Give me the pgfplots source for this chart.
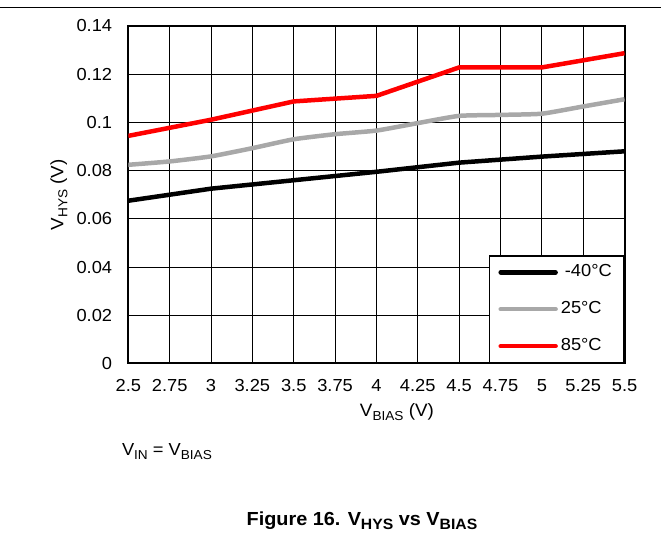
\documentclass[border=0pt]{standalone}
\usepackage{fontspec}
\setmainfont{Liberation Sans}[FakeStretch=1.05]
\usepackage{pgfplots}
\pgfplotsset{compat=1.18}
\definecolor{lgray}{RGB}{168,168,168}
\definecolor{lred}{RGB}{255,0,0}
\newcommand{\sub}[2][13bp]{\raisebox{-0.22em}{\fontsize{#1}{#1}\selectfont #2}}
\begin{document}
\begin{tikzpicture}
\path (0,0) rectangle (661bp,533bp);
\draw[line width=1bp] (0,525.5bp) -- (661bp,525.5bp);
\begin{axis}[
  at={(128bp,169bp)}, anchor=south west,
  scale only axis, width=497bp, height=338bp,
  xmin=2.5, xmax=5.5, ymin=0, ymax=0.14,
  xtick={2.5,2.75,3,3.25,3.5,3.75,4,4.25,4.5,4.75,5,5.25,5.5},
  xticklabels={2.5,2.75,3,3.25,3.5,3.75,4,4.25,4.5,4.75,5,5.25,5.5},
  ytick={0,0.02,0.04,0.06,0.08,0.1,0.12,0.14},
  yticklabels={0,0.02,0.04,0.06,0.08,0.1,0.12,0.14},
  /pgf/number format/assume math mode=true,
  major tick length=0pt,
  grid=major,
  major grid style={black, line width=0.8bp},
  axis line style={black, line width=2bp},
  tick label style={font=\fontsize{17.5}{20}\selectfont, inner sep=0pt},
  xticklabel style={anchor=base, yshift=-28bp},
  yticklabel style={anchor=east, xshift=-16bp},
  legend cell align=left,
  legend style={at={(rel axis cs:1,0)}, anchor=south east, draw=black, line width=1.6bp, fill=white,
    inner xsep=9bp, inner ysep=6bp, row sep=16bp,
    font=\fontsize{17.5}{20}\selectfont,
    nodes={inner sep=3bp, text height=12bp, text depth=3bp}},
  legend image code/.code={\draw[#1, line cap=round] (0bp,0bp) -- (55bp,0bp);},
  every axis plot/.append style={line width=4.5bp, line join=round},
]
\addplot[black] coordinates {(2.5,0.0675) (3,0.0725) (3.5,0.0760) (4,0.0795) (4.5,0.0833) (5,0.0858) (5.5,0.0880)};
\addlegendentry{\hspace{4bp}-40°C}
\addplot[lgray, smooth, tension=0.3] coordinates {(2.5,0.0824) (2.75,0.0838) (3,0.0859) (3.25,0.0893) (3.5,0.0930) (3.75,0.0951) (4,0.0966) (4.25,0.0997) (4.5,0.1027) (4.75,0.1031) (5,0.1036) (5.25,0.1066) (5.5,0.1096)};
\addlegendentry{25°C}
\addplot[lred] coordinates {(2.5,0.0944) (3,0.1011) (3.5,0.1087) (4,0.1110) (4.5,0.1228) (5,0.1228) (5.5,0.1287)};
\addlegendentry{85°C}
\end{axis}
\node[rotate=90, anchor=base, inner sep=0pt, font=\fontsize{18}{21}\selectfont] at (63bp,338bp) {V\sub{HYS} (V)};
\node[anchor=base, inner sep=0pt, font=\fontsize{18}{21}\selectfont] at (397bp,116bp) {V\sub{BIAS} (V)};
\node[anchor=base west, inner sep=0pt, font=\fontsize{17.5}{20}\selectfont] at (121.5bp,76.5bp) {V\sub{IN} = V\sub{BIAS}};
\node[anchor=base, inner sep=0pt, font=\fontsize{19}{22}\selectfont\bfseries] at (362bp,7bp) {Figure 16. V\sub[15bp]{HYS} vs V\sub[15bp]{BIAS}};
\end{tikzpicture}
\end{document}
